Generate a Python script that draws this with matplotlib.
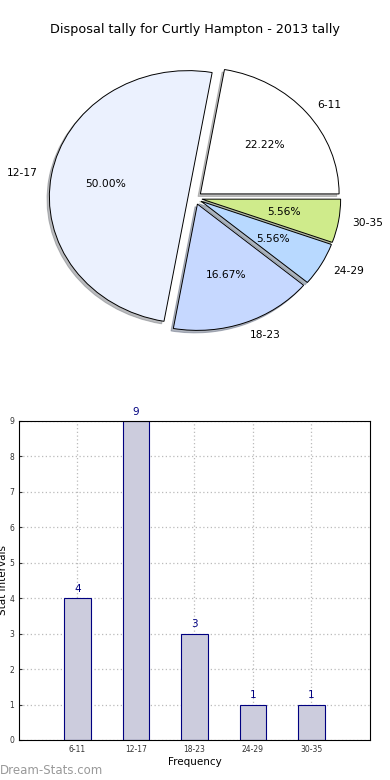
import matplotlib
matplotlib.use('Agg')
import matplotlib.pyplot as plt

# Data
categories = ['6-11', '12-17', '18-23', '24-29', '30-35']
counts = [4, 9, 3, 1, 1]
pie_colors = ['#ffffff', '#ebf1fe', '#c6d8ff', '#b8d9ff', '#cfeb8b']
explode = [0.05, 0.05, 0.05, 0.05, 0.05]

fig = plt.figure(figsize=(3.9, 7.8), dpi=100)

# Pie chart (stretched, old-style)
ax1 = fig.add_axes([0.0487, 0.5406, 0.9026, 0.411])
wedges, texts, autotexts = ax1.pie(counts, labels=categories, colors=pie_colors,
                                   explode=explode, autopct='%.2f%%', radius=0.985,
                                   shadow={'ox': -0.012, 'oy': -0.014, 'shade': 0.5},
                                   wedgeprops=dict(edgecolor='black', linewidth=0.7),
                                   textprops=dict(fontsize=7.7))
ax1.set_aspect('auto')
ax1.set_xlim(-1.25, 1.25)
ax1.set_ylim(-1.25, 1.25)
fig.text(0.5, 0.962, 'Disposal tally for Curtly Hampton - 2013 tally',
         ha='center', va='center', fontsize=9.2)

# Bar chart
ax2 = fig.add_axes([0.0487, 0.0513, 0.9, 0.409])
x = range(len(categories))
ax2.bar(x, counts, width=0.45, color='#ccccdd', edgecolor='navy', linewidth=0.8, zorder=2)
for i, v in zip(x, counts):
    ax2.text(i, v + 0.12, str(v), ha='center', va='bottom', color='navy', fontsize=7.5)
ax2.set_xlim(-1, 5)
ax2.set_ylim(0, 9)
ax2.set_xticks(list(x))
ax2.set_xticklabels(categories)
ax2.set_yticks(range(10))
ax2.tick_params(labelsize=5.5, direction='in', length=2, colors='#333333')
ax2.grid(True, linestyle=(0, (1, 2)), color='#bbbbbb', linewidth=0.9, zorder=0)
ax2.set_axisbelow(True)
ax2.set_xlabel('Frequency', fontsize=7.5, labelpad=2)
ax2.set_ylabel('Stat Intervals', fontsize=7.5, labelpad=1)

fig.text(0.0, 0.004, 'Dream-Stats.com', color='#999999', fontsize=8.5, ha='left', va='bottom')

fig.savefig('out.png', dpi=100)
